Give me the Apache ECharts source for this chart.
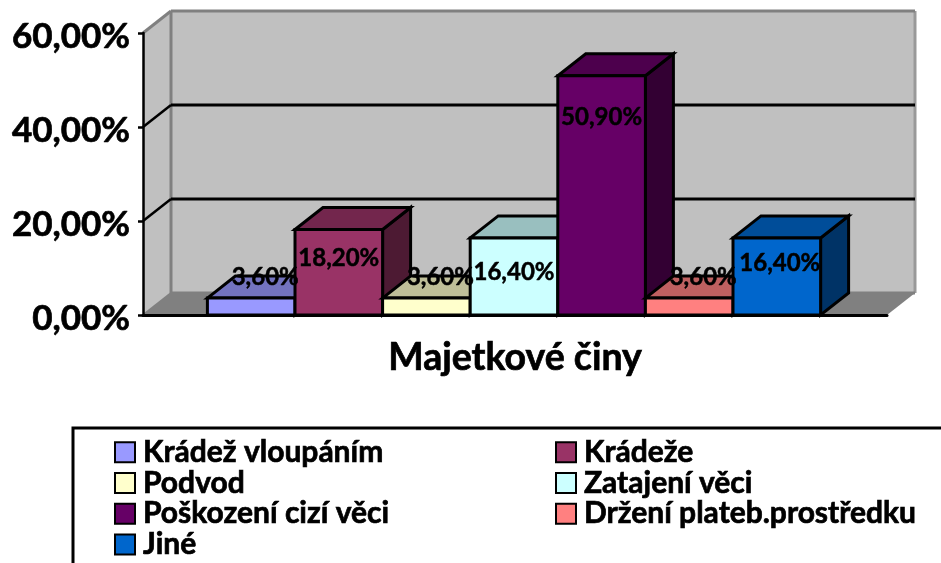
<!DOCTYPE html>
<html>
<head>
<meta charset="utf-8">
<style>html,body{margin:0;padding:0;background:#fff}#c{width:941px;height:563px}</style>
<script src="https://cdn.jsdelivr.net/npm/echarts@6/dist/echarts.min.js"></script>
</head>
<body>
<div id="c"></div>
<script>
const axisCategories = ['Majetkové činy'];
const seriesNames = ['Krádež vloupáním','Krádeže','Podvod','Zatajení věci','Poškození cizí věci','Držení plateb.prostředku','Jiné'];
const seriesValues = [3.6,18.2,3.6,16.4,50.9,3.6,16.4];
const valueLabels = ['3,60%','18,20%','3,60%','16,40%','50,90%','3,60%','16,40%'];
const tickValues = [0,20,40,60];

const seriesColors = ['#9999FF','#993366','#FFFFCC','#CCFFFF','#660066','#FF8080','#0066CC'];
const labelNudge = [[14,-21],[0,29],[14,-21],[0,34],[0,41],[14,-21],[3,25]];
const FONT = 'Lato, sans-serif';
const HEAVY = {textBorderColor:'#000',textBorderWidth:0.7};
const DX = 28, DY = -22, BAR = 87.6, SHIFT = -1;

function shade(hex, k){
  const n = parseInt(hex.slice(1),16);
  const c = [n>>16&255,n>>8&255,n&255].map(v=>Math.round(v*k));
  return 'rgb('+c.join(',')+')';
}
function poly(points, fill, stroke, w){
  return {type:'polygon',shape:{points},style:{fill,stroke,lineWidth:w,lineJoin:'miter'},silent:true};
}
function line(x1,y1,x2,y2,stroke,w){
  return {type:'line',shape:{x1,y1,x2,y2},style:{stroke,lineWidth:w},silent:true};
}

function renderWall(params, api){
  const v = api.value(1);
  const band = api.size([1,0])[0];
  const mid = api.coord([0,v]);
  const xL = mid[0]-band/2, xR = mid[0]+band/2, y = mid[1];
  const GRAY='#808080';
  const topValue = tickValues[tickValues.length-1];
  const children=[];
  if(v===0){
    const yTop = api.coord([0,topValue])[1];
    children.push(poly([[xL,yTop],[xL+DX,yTop+DY],[xL+DX,y+DY],[xL,y]],'#C0C0C0',null,0));
    children.push(poly([[xL+DX,yTop+DY],[xR+DX,yTop+DY],[xR+DX,y+DY],[xL+DX,y+DY]],'#C0C0C0',null,0));
    children.push(poly([[xL,y],[xL+DX,y+DY],[xR+DX,y+DY],[xR,y]],GRAY,null,0));
    children.push(line(xL+DX,yTop+DY,xL+DX,y+DY,GRAY,3));
    children.push(line(xR+DX,yTop+DY,xR+DX,y+DY,'#999999',3));
    children.push(line(xL,y,xL+DX,y+DY,GRAY,2));
    children.push(line(xL+DX,y+DY,xR+DX,y+DY,GRAY,3));
  } else {
    const isTop = v===topValue;
    const c = isTop?GRAY:'#000';
    children.push(line(xL,y,xL+DX,y+DY,c,isTop?3:2.5));
    children.push(line(xL+DX,y+DY,xR+DX,y+DY,c,3));
  }
  return {type:'group',children};
}

function renderBar(idx){
  return function(params, api){
    const v = api.value(1);
    const top = api.coord([0,v]);
    const base = api.coord([0,0]);
    const cx = top[0]+SHIFT+(idx-(seriesNames.length-1)/2)*BAR;
    const l=cx-BAR/2, r=cx+BAR/2, t=top[1], b=base[1];
    const col=seriesColors[idx];
    return {type:'group',children:[
      poly([[r,t],[r+DX,t+DY],[r+DX,b+DY],[r,b]],shade(col,0.5),'#000',3),
      poly([[l,t],[l+DX,t+DY],[r+DX,t+DY],[r,t]],shade(col,0.75),'#000',3),
      poly([[l,t],[r,t],[r,b],[l,b]],col,'#000',3),
      {type:'text',z2:100,silent:true,style:{
        text:valueLabels[idx],x:cx+labelNudge[idx][0],y:t+labelNudge[idx][1],
        fontFamily:FONT,fontWeight:'bold',fontSize:24,fill:'#000',stroke:'#000',lineWidth:0.5,align:'center',verticalAlign:'middle'}}
    ]};
  };
}

const barSeries = seriesNames.map((name,i)=>({
  type:'custom',name,coordinateSystem:'cartesian2d',z:2,
  itemStyle:{color:seriesColors[i],borderColor:'#000',borderWidth:2.5},
  encode:{x:0,y:1},
  data:[[0,seriesValues[i]]],
  renderItem:renderBar(i)
}));

const legendBase = {
  orient:'vertical',icon:'rect',itemWidth:20,itemHeight:20,itemGap:0,height:140,
  selectedMode:false,
  textStyle:Object.assign({fontFamily:FONT,fontWeight:'bold',fontSize:30,color:'#000',padding:[0,0,0,3]},HEAVY),
  padding:0
};

const option = {
  animation:false,
  backgroundColor:'#fff',
  grid:{left:143,top:33,width:744,height:282},
  xAxis:{type:'category',data:axisCategories,z:1,
    axisLine:{show:true,lineStyle:{color:'#000',width:3}},
    axisTick:{show:false},
    axisLabel:Object.assign({margin:24,fontFamily:FONT,fontWeight:'bold',fontSize:37.5,color:'#000'},HEAVY)},
  yAxis:{type:'value',min:0,max:60,interval:20,z:1,
    axisLine:{show:true,lineStyle:{color:'#000',width:2.5}},
    axisTick:{show:true,length:5,lineStyle:{color:'#000',width:2.5}},
    splitLine:{show:false},
    axisLabel:Object.assign({margin:13,fontFamily:FONT,fontWeight:'bold',fontSize:35,color:'#000',
      verticalAlign:'middle',lineHeight:40,padding:[4,0,0,0],
      formatter:v=>'{a|'+v.toFixed(2).replace('.',',')+'%}',
      rich:{a:{fontFamily:FONT,fontWeight:'bold',fontSize:35,color:'#000',padding:[4,0,0,0],textBorderColor:'#000',textBorderWidth:0.7}}},HEAVY)},
  legend:[
    Object.assign({},legendBase,{left:114,top:437,data:[seriesNames[0],seriesNames[2],seriesNames[4],seriesNames[6]]}),
    Object.assign({},legendBase,{left:555,top:437,data:[seriesNames[1],seriesNames[3],seriesNames[5]]})
  ],
  graphic:[{type:'rect',x:73,y:428,shape:{x:0,y:0,width:900,height:170},style:{fill:'none',stroke:'#000',lineWidth:3},silent:true,z:-1}],
  series:[
    {type:'custom',name:'walls',coordinateSystem:'cartesian2d',z:-1,silent:true,
     encode:{x:0,y:1},data:tickValues.map(v=>[0,v]),renderItem:renderWall}
  ].concat(barSeries)
};
echarts.init(document.getElementById('c'),null,{renderer:'canvas'}).setOption(option);
</script>
</body>
</html>
